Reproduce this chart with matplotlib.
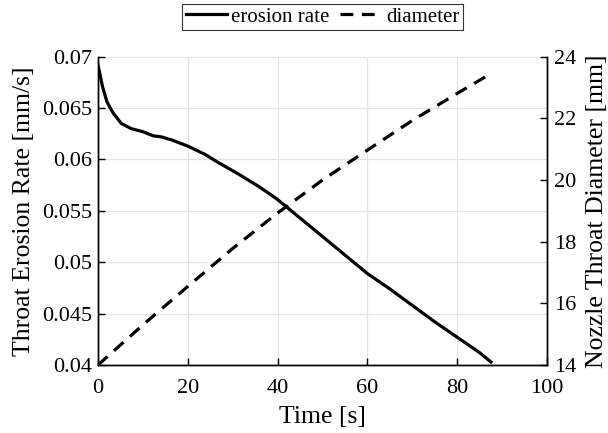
import matplotlib
matplotlib.use('Agg')
import matplotlib.pyplot as plt
import numpy as np

# erosion rate
t_rate = [0, 1, 2, 3.4, 5.2, 7.4, 10, 12.3, 14.1, 16.4, 20, 23.8, 26.8, 31.2,
          35.7, 39.7, 45, 50, 55, 60, 65, 70, 75, 80, 85, 87.5]
rate = [0.0692, 0.0671, 0.0656, 0.0645, 0.0635, 0.0630, 0.0627, 0.0623, 0.0622,
        0.0619, 0.0613, 0.0605, 0.0597, 0.0586, 0.0574, 0.0562, 0.0543, 0.0525,
        0.0507, 0.0489, 0.0474, 0.0458, 0.0442, 0.0427, 0.0412, 0.0403]

# throat diameter
t_diam = [0, 10, 20, 30, 40, 50, 60, 70, 80, 87.5]
diam = [14.0, 15.3, 16.55, 17.78, 18.93, 20.0, 20.97, 21.93, 22.81, 23.45]

xticks = [0, 20, 40, 60, 80, 100]
lticks = [0.04, 0.045, 0.05, 0.055, 0.06, 0.065, 0.07]
lticklabels = ['0.04', '0.045', '0.05', '0.055', '0.06', '0.065', '0.07']
rticks = [14, 16, 18, 20, 22, 24]

plt.rcParams['font.family'] = ['Liberation Serif', 'DejaVu Serif']

fig = plt.figure(figsize=(6.08, 4.33), dpi=100)
ax = fig.add_axes([98/608, 1 - 365/433, 449/608, 308.3/433])
ax2 = ax.twinx()

l1, = ax.plot(t_rate, rate, color='black', lw=2.3, label='erosion rate')
l2, = ax2.plot(t_diam, diam, color='black', lw=2.3, linestyle=(0, (4, 2.7)),
               label='diameter')

ax.set_xlim(0, 100)
ax.set_ylim(0.04, 0.07)
ax2.set_ylim(14, 24)
ax.set_xticks(xticks)
ax.set_yticks(lticks)
ax.set_yticklabels(lticklabels)
ax2.set_yticks(rticks)

ax.grid(True, color='#e3e3e3', lw=0.9)
ax.set_axisbelow(True)

for a in (ax, ax2):
    a.spines['top'].set_visible(False)
    for s in a.spines.values():
        s.set_linewidth(1.0)
ax.tick_params(axis='both', direction='in', length=5, width=1.0,
               labelsize=16, colors='black')
ax.tick_params(axis='x', pad=10)
ax.tick_params(axis='y', pad=4)
ax2.tick_params(axis='y', direction='in', length=5, width=1.0,
                labelsize=16, pad=5)

ax.set_xlabel('Time [s]', fontsize=18.5, labelpad=6)
ax.set_ylabel('Throat Erosion Rate [mm/s]', fontsize=18.5, labelpad=5)
ax2.set_ylabel('Nozzle Throat Diameter [mm]', fontsize=18.5, labelpad=7)

leg = fig.legend(handles=[l1, l2], loc='upper center',
                 bbox_to_anchor=((98 + 449/2)/608, 1 - 4/433), ncol=2,
                 fontsize=15, frameon=True, fancybox=False, edgecolor='black',
                 handlelength=2.0, handletextpad=0.2, columnspacing=0.5,
                 borderpad=0.15, borderaxespad=0)
leg.get_frame().set_linewidth(0.8)

fig.savefig('out.png', dpi=100)
